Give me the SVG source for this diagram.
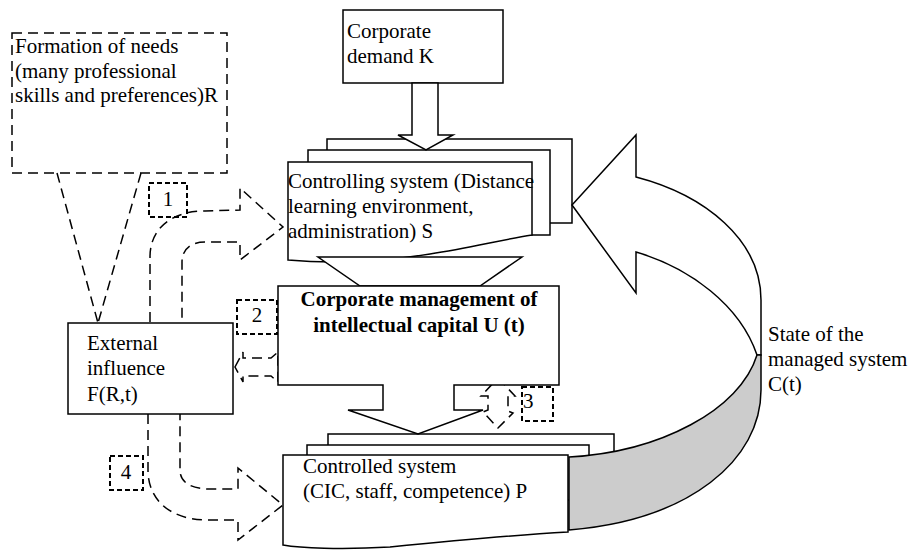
<svg xmlns="http://www.w3.org/2000/svg" width="912" height="552" viewBox="0 0 912 552">
<style>
.t{font-family:"Liberation Serif","Times New Roman",serif;font-size:21px;fill:#000}
.b{font-weight:bold}
.s{fill:#fff;stroke:#000;stroke-width:1.5;stroke-linejoin:miter}
.d{fill:none;stroke:#000;stroke-width:1.5;stroke-dasharray:10 6}
.n{fill:none;stroke:#000;stroke-width:2;stroke-dasharray:5 3}
</style>
<rect width="912" height="552" fill="#fff"/>

<g id="needs">
<rect class="d" x="12" y="33" width="215" height="140"/>
<text class="t" x="15" y="53">Formation of needs</text>
<text class="t" x="15" y="77.5">(many professional</text>
<text class="t" x="15" y="102">skills and preferences)R</text>
</g>

<g id="demand">
<rect class="s" x="343" y="10" width="160" height="73"/>
<text class="t" x="347" y="38">Corporate</text>
<text class="t" x="347" y="63">demand K</text>
</g>

<g id="controlling">
<rect class="s" x="327" y="139" width="245" height="84"/>
<rect class="s" x="308" y="150" width="242" height="85"/>
<path class="s" d="M288,162 H532 V235 C500,240 470,248 430,254 C380,262 330,264 288,260 Z"/>
<text class="t" x="288" y="188">Controlling system (Distance</text>
<text class="t" x="288" y="213">learning environment,</text>
<text class="t" x="288" y="238">administration) S</text>
</g>

<g id="controlled">
<rect class="s" x="328" y="434" width="286" height="62"/>
<rect class="s" x="307" y="445" width="282" height="55"/>
<path class="s" d="M283,455 H568 V532 C500,536 440,542 390,547 C340,550 300,548 283,545 Z"/>
<text class="t" x="303" y="473">Controlled system</text>
<text class="t" x="303" y="498">(CIC, staff, competence) P</text>
</g>

<g id="external">
<rect class="s" x="68" y="323" width="165" height="91"/>
<text class="t" x="87" y="350">External</text>
<text class="t" x="87" y="375">influence</text>
<text class="t" x="87" y="401">F(R,t)</text>
</g>

<g id="connectors">
<polygon class="s" points="412,83 438,83 438,135 453,135 426,150 398,135 412,135"/>
<polygon class="s" points="318,257 522,257 480,286 360,286"/>
<line class="d" x1="57" y1="173" x2="98" y2="323"/>
<line class="d" x1="141" y1="173" x2="98" y2="323"/>
<path class="d" d="M150,322 V257 C150,228 172,211 205,211 L240,210 V188 L283,227 L240,260 V242 H205 C190,242 182,250 182,262 V322"/>
<path class="d" d="M148,414 V470 C148,500 170,519 205,520 H238 V540 L283,505 L238,468 V489 H210 C190,489 180,482 180,470 V414"/>
<polygon class="d" points="235,367 243,352 243,358 271,358 278,352 278,382 271,376 243,376 243,382"/>
<polygon class="d" points="498,378 515,396 508,396 508,411 513,413 498,428 483,412 488,410 488,396 481,396"/>
<path class="s" d="M572,205 L636,135 L636,177 C705,195 761,240 761,300 L761,355 L757,355 C740,305 690,268 636,252 L636,293 Z"/>
<path fill="#cccccc" stroke="#000" stroke-width="1.5" d="M757,355 C740,410 660,452 569,457 L569,530 C690,520 761,460 761,390 L761,355 Z"/>
</g>

<g id="management">
<polygon class="s" points="278,286 559,286 559,385 454,385 454,410 483,410 418,434 348,410 383,410 383,385 278,385"/>
<text class="t b" x="419" y="306" text-anchor="middle">Corporate management of</text>
<text class="t b" x="419" y="332" text-anchor="middle">intellectual capital U (t)</text>
</g>

<g id="state">
<text class="t" x="768" y="341">State of the</text>
<text class="t" x="768" y="366">managed system</text>
<text class="t" x="768" y="391">C(t)</text>
</g>

<g id="label1"><rect class="n" x="149" y="183" width="38" height="34"/><text class="t" x="168" y="206" text-anchor="middle">1</text></g>
<g id="label2"><rect class="n" x="237" y="300" width="40" height="34"/><text class="t" x="257" y="322" text-anchor="middle">2</text></g>
<g id="label3"><rect class="n" x="522" y="387" width="31" height="34"/><text class="t" x="523" y="408">3</text></g>
<g id="label4"><rect class="n" x="110" y="456" width="33" height="34"/><text class="t" x="126" y="479" text-anchor="middle">4</text></g>
</svg>
